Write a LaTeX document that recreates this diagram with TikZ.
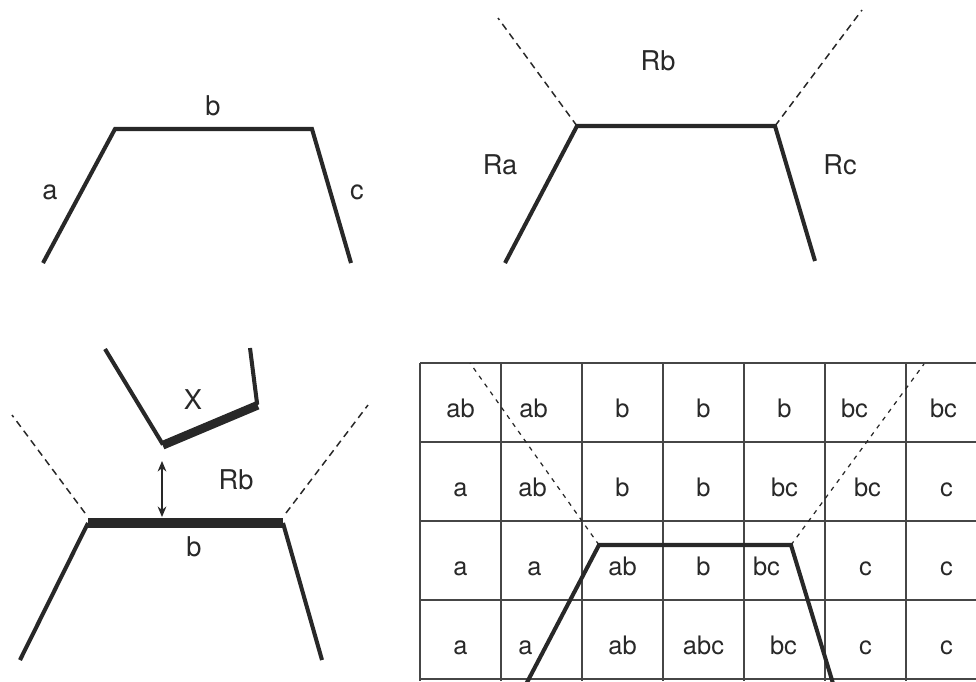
\documentclass[tikz,border=0pt]{standalone}
\usepackage{fontspec}
\setmainfont{TeX Gyre Heros}
\usetikzlibrary{arrows.meta,calc}
\definecolor{ink}{RGB}{40,40,40}
\definecolor{inkgray}{RGB}{70,70,70}

\begin{document}
\begin{tikzpicture}[x=0.02cm, y=-0.02cm,
    every node/.style={font=\fontsize{15.5}{18}\selectfont, text=ink, inner sep=0pt},
    edge/.style={ink, line width=2.3pt, line join=miter},
    heavy/.style={ink, line width=5.7pt},
    region/.style={ink, line width=0.85pt, dash pattern=on 4pt off 2.8pt},
    griddash/.style={ink, line width=0.7pt, dash pattern=on 2.5pt off 3pt},
    cellline/.style={inkgray, line width=0.75pt},
    cell/.style={anchor=base, font=\fontsize{14.5}{17}\selectfont}]
  \useasboundingbox (0,0) rectangle (976,681);
  \clip (0,0) rectangle (976,681);

  % --- panel 1: the edges a, b, c ---
  \coordinate (p1a) at (43,263);
  \coordinate (p1b) at (115,129);
  \coordinate (p1c) at (312,129);
  \coordinate (p1d) at (351,263);
  \draw[edge] (p1a) -- (p1b) -- (p1c) -- (p1d);
  \node (lb1) at (213,106) {b};
  \node (la1) at (50,192) {a};
  \node (lc1) at (357,192) {c};

  % --- panel 2: regions of the edges ---
  \coordinate (p2a) at (505,263);
  \coordinate (p2b) at (577,126);
  \coordinate (p2c) at (775,126);
  \coordinate (p2d) at (815,261);
  \coordinate (p2l) at (498,18);
  \coordinate (p2r) at (862,10);
  \draw[edge] (p2a) -- (p2b) -- (p2c) -- (p2d);
  \draw[region] (p2b) -- (p2l);
  \draw[region] (p2c) -- (p2r);
  \node (rb2) at (658,61) {Rb};
  \node (ra2) at (500,165) {Ra};
  \node (rc2) at (840,165) {Rc};

  % --- panel 3: object X close to edge b ---
  \coordinate (xa) at (105,349);
  \coordinate (xb) at (162,443);
  \coordinate (xc) at (257,403);
  \coordinate (xd) at (250,348);
  \draw[edge] (xa) -- (xb) -- (xc) -- (xd);
  \draw[ink, line width=4pt] ($(xb)+(1,3)$) -- ($(xc)+(1,3)$);
  \node (lx) at (193,400) {X};
  \coordinate (p3a) at (20,660);
  \coordinate (p3b) at (88,523);
  \coordinate (p3c) at (283,523);
  \coordinate (p3d) at (322,660);
  \draw[edge] (p3a) -- (p3b);
  \draw[edge] (p3c) -- (p3d);
  \draw[heavy] (p3b) -- (p3c);
  \draw[region] (85,513) -- (12,415);
  \draw[region] (286,513) -- (368,405);
  \coordinate (gapt) at (162,461);
  \coordinate (gapb) at (162,517);
  \draw[ink, line width=0.7pt, {Stealth[length=6pt,width=5pt]}-{Stealth[length=6pt,width=5pt]}] (gapt) -- (gapb);
  \node (rb3) at (236,480) {Rb};
  \node (lb3) at (194,547) {b};

  % --- panel 4: cells labelled with nearby edges ---
  \foreach \i in {0,...,7}
    \draw[cellline] ({420+81*\i},363) -- ({420+81*\i},681);
  \foreach \j in {0,...,4}
    \draw[cellline] (420,{363+79*\j}) -- (990,{363+79*\j});
  \foreach \row [count=\r] in {{ab/0,ab/-8,b/0,b/0,b/0,bc/-11,bc/-3},
                               {a/0,ab/-9,b/0,b/0,bc/0,bc/2,c/0},
                               {a/0,a/-7,ab/0,b/0,bc/-18,c/0,c/0},
                               {a/0,a/-16,ab/0,abc/0,bc/-1,c/0,c/0}}{
    \foreach \t/\dx [count=\c] in \row {
      \node[cell] (cell\r\c) at ({420+81*(\c-0.5)+\dx},{363+79*(\r-1)+54}) {\t};
    }
  }
  \coordinate (g4a) at (523,690);
  \coordinate (g4b) at (599,545);
  \coordinate (g4c) at (791,545);
  \coordinate (g4d) at (835,690);
  \draw[edge] (g4a) -- (g4b) -- (g4c) -- (g4d);
  \draw[griddash] (g4b) -- (470,363);
  \draw[griddash] (g4c) -- (924,364);
\end{tikzpicture}
\end{document}
